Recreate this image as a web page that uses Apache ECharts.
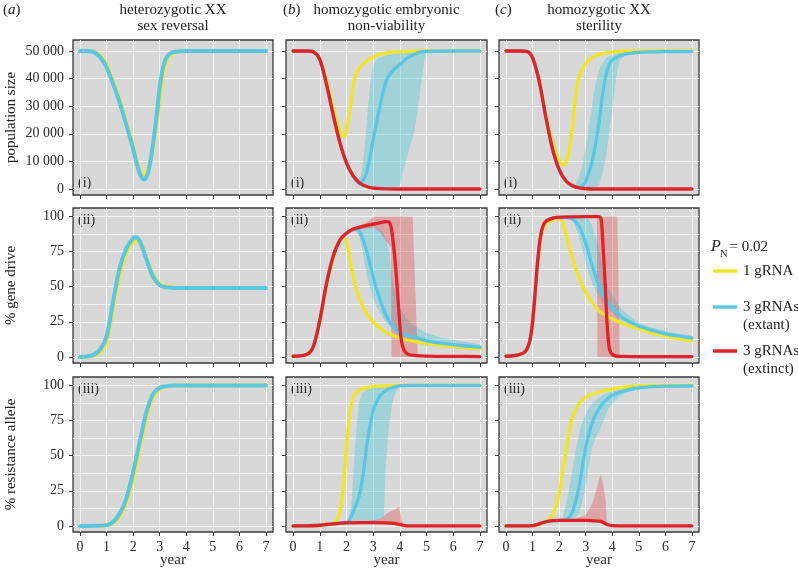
<!DOCTYPE html>
<html><head><meta charset="utf-8">
<script src="https://cdn.jsdelivr.net/npm/echarts@6/dist/echarts.min.js"></script>
<style>html,body{margin:0;padding:0;background:#fff}#c{width:798px;height:568px}</style>
</head><body><div id="c"></div><script>
// ---------- tick labels ----------
const yearTicks = [0, 1, 2, 3, 4, 5, 6, 7];
const popTicks = [0, 10000, 20000, 30000, 40000, 50000];
const pctTicks = [0, 25, 50, 75, 100];
const pctMinor = [12.5, 37.5, 62.5, 87.5];
const columnTitles = [['heterozygotic XX', 'sex reversal'], ['homozygotic embryonic', 'non-viability'], ['homozygotic XX', 'sterility']];
const columnLetters = ['a', 'b', 'c'];
const rowTitles = ['population size', '% gene drive', '% resistance allele'];
const rowTags = ['(i)', '(ii)', '(iii)'];
const legendNames = ['1 gRNA', '3 gRNAs', '(extant)', '3 gRNAs', '(extinct)'];

// ---------- (a) heterozygotic XX sex reversal ----------
const aPopYellow = [[0,50000],[0.25,50000],[0.5,49800],[0.75,48500],[1,45000],[1.25,39000],[1.5,32000],[1.75,24000],[2,15500],[2.1,11500],[2.2,8000],[2.3,5600],[2.4,4800],[2.5,5800],[2.6,8500],[2.75,15000],[2.9,25000],[3,33000],[3.15,42500],[3.3,47300],[3.5,49300],[3.75,49900],[4,50000],[5,50000],[6,50000],[7,50000]];
const aPopBlue = [[0,50000],[0.25,50000],[0.5,49700],[0.75,47800],[1,44000],[1.25,38000],[1.5,31000],[1.75,23000],[2,14500],[2.1,10500],[2.2,7000],[2.3,4500],[2.4,3500],[2.5,4300],[2.6,7500],[2.75,16500],[2.9,28000],[3,37000],[3.15,45000],[3.3,48300],[3.5,49600],[3.75,49900],[4,50000],[5,50000],[6,50000],[7,50000]];
const aDriveYellow = [[0,0],[0.25,0.2],[0.5,1],[0.75,3.5],[1,11],[1.25,35],[1.5,59],[1.75,74.5],[2,82],[2.1,83],[2.25,81.5],[2.5,71],[2.75,58],[3,52],[3.25,49.8],[3.5,49.2],[4,49],[5,49],[6,49],[7,49]];
const aDriveBlue = [[0,0],[0.25,0.3],[0.5,1.5],[0.75,5],[1,14.5],[1.25,40],[1.5,64],[1.75,77.5],[2,84.5],[2.1,85],[2.25,82.5],[2.5,69.5],[2.75,57],[3,51],[3.25,49.5],[3.5,49.1],[4,49],[5,49],[6,49],[7,49]];
const aResYellow = [[0,0],[0.5,0],[1,0.5],[1.25,2],[1.5,7],[1.75,17],[2,34],[2.25,55],[2.5,77],[2.75,92],[3,97.5],[3.25,99.3],[3.5,99.8],[4,100],[5,100],[6,100],[7,100]];
const aResBlue = [[0,0],[0.5,0.1],[1,0.6],[1.25,3],[1.5,9],[1.75,20],[2,38.5],[2.25,60],[2.5,81],[2.75,94],[3,98.3],[3.25,99.5],[3.5,99.9],[4,100],[5,100],[6,100],[7,100]];

// ---------- (b) homozygotic embryonic non-viability ----------
const bPopRed = [[0,50000],[0.5,50000],[0.75,49700],[1,47000],[1.25,38000],[1.5,27000],[1.75,17000],[2,9500],[2.25,4800],[2.5,2200],[2.75,900],[3,300],[3.5,50],[4,0],[5,0],[6,0],[7,0]];
const bPopYellow = [[0,50000],[0.5,50000],[0.75,49700],[1,47000],[1.25,39500],[1.5,29500],[1.65,24500],[1.77,20800],[1.88,18900],[1.95,19500],[2.02,22500],[2.15,30000],[2.27,38300],[2.4,42500],[2.65,45500],[2.9,47300],[3.25,48800],[3.75,49600],[4.25,49900],[4.75,50000],[6,50000],[7,50000]];
const bPopBlue = [[0,50000],[0.5,50000],[0.75,49700],[1,47000],[1.25,38000],[1.5,27000],[1.75,17000],[2,9500],[2.25,4800],[2.4,2600],[2.5,1800],[2.6,2800],[2.75,5700],[3,17700],[3.25,29800],[3.5,39500],[3.75,43100],[4,45000],[4.25,47300],[4.5,48600],[4.75,49600],[5,49900],[6,50000],[7,50000]];
const bPopBlueBand = [[2.4,1800,3000],[2.55,800,5000],[2.65,500,12000],[2.72,400,19000],[2.8,300,29000],[2.9,300,39000],[3,300,45000],[3.15,300,47300],[3.5,300,48500],[4,900,49500],[4.13,6900,49700],[4.34,14100,49800],[4.53,20200,49900],[4.65,27400,50000],[4.78,37100,50000],[4.9,45500,50000],[4.98,49100,50000],[5.1,49800,50000]];
const bDriveRed = [[0,0.5],[0.5,1.7],[0.75,7],[1,26],[1.25,52],[1.5,71.5],[1.75,83],[2,88],[2.25,91],[2.5,92.4],[2.75,93.6],[3,94.5],[3.25,95.5],[3.5,96.3],[3.6,96],[3.71,88],[3.84,64.5],[3.96,33.6],[4.05,12.5],[4.15,5],[4.3,2],[4.6,1],[5,0.6],[6,0.4],[7,0.3]];
const bDriveYellow = [[0,0.5],[0.5,1.7],[0.75,7],[1,25],[1.25,50],[1.5,70],[1.7,81],[1.85,85],[1.95,84],[2.05,78],[2.15,68],[2.25,57],[2.5,41],[2.75,31],[3,25],[3.25,20.6],[3.5,17.5],[3.75,15.2],[4,13.5],[4.5,11.2],[5,9.5],[5.5,8.3],[6,7.3],[6.5,6.4],[7,5.7]];
const bDriveBlue = [[0,0.5],[0.5,1.7],[0.75,7],[1,26],[1.25,52],[1.5,71.5],[1.75,83],[2,88],[2.25,90.5],[2.4,91],[2.5,89],[2.75,76],[2.9,64.5],[3,57],[3.25,41],[3.5,29],[3.75,21.5],[4,17],[4.25,15.5],[4.5,14.5],[5,11.5],[5.5,10],[6,8.8],[6.5,7.8],[7,7]];
const bDriveBlueBand = [[2.25,90,91.5],[2.4,89,92],[2.5,85,92.5],[2.6,76,93],[2.77,57,93],[3,41,93],[3.25,31.5,91],[3.4,27,88],[3.5,24,83],[3.6,22,76],[3.65,21.5,66],[3.75,19.5,52],[3.85,17.5,45],[4,14.8,35],[4.25,12.5,27],[4.5,10.5,22.5],[5,8,17],[5.5,7,14],[6,6,12],[6.5,5.5,10.5],[7,5,9]];
const bDriveRedBand = [[2.25,90,92],[2.5,91,93.5],[2.75,91.5,95.5],[2.95,92,98.5],[3.05,92,100],[3.25,89,100],[3.5,82,100],[3.67,78,100],[3.69,0,100],[4.48,0,100],[4.67,0,1]];
const bResYellow = [[0,0],[0.5,0],[1,0.3],[1.25,0.8],[1.5,2],[1.6,3.5],[1.7,7],[1.8,15],[1.9,32],[2,55],[2.1,76],[2.2,88],[2.3,93.5],[2.5,97],[2.75,98.5],[3,99.2],[3.5,99.7],[4,100],[5,100],[6,100],[7,100]];
const bResBlue = [[0,0],[1,0.5],[1.5,1.5],[2,2.5],[2.1,4],[2.27,11],[2.4,17],[2.52,25],[2.65,40],[2.77,58.6],[2.9,72.8],[3.02,83.5],[3.27,93],[3.53,97],[3.78,98.8],[4.03,99.8],[4.5,100],[5,100],[6,100],[7,100]];
const bResBlueBand = [[2,1.5,3],[2.1,1.5,5],[2.2,1.8,18],[2.33,2,58],[2.46,2.2,87],[2.58,2.5,94],[2.77,3,97.6],[3,3.5,99],[3.25,4,99.5],[3.4,6,99.7],[3.46,40,99.8],[3.59,70,99.9],[3.71,87,100],[3.84,95,100],[3.97,98.8,100],[4.2,99.7,100]];
const bResRed = [[0,0],[0.5,0.1],[1,0.5],[1.5,1.5],[2,2.2],[2.5,2.4],[3,2.4],[3.5,2.2],[3.8,1.8],[4,0.9],[4.2,0.3],[4.5,0.1],[5,0],[6,0],[7,0]];
const bResRedBand = [[2,1.8,2.6],[2.5,1.8,3],[3,1.6,4],[3.27,1.5,4.7],[3.52,1.3,9],[3.78,1.1,11.3],[3.97,0.8,13.7],[4.05,0.5,6.6],[4.12,0.3,0.7]];

// ---------- (c) homozygotic XX sterility ----------
const cPopRed = [[0,50000],[0.5,50000],[0.8,49800],[1,47500],[1.25,39000],[1.5,26000],[1.75,14500],[2,7000],[2.25,3000],[2.5,1200],[2.75,400],[3,100],[3.5,0],[4,0],[5,0],[6,0],[7,0]];
const cPopYellow = [[0,50000],[0.5,50000],[0.8,49800],[1,47500],[1.25,39000],[1.5,27000],[1.75,17000],[2,10500],[2.15,8700],[2.25,9500],[2.4,15300],[2.5,22600],[2.6,32000],[2.75,40700],[3,45500],[3.25,47700],[3.5,48800],[4,49600],[4.5,50000],[5,50000],[6,50000],[7,50000]];
const cPopBlue = [[0,50000],[0.5,50000],[0.8,49800],[1,47500],[1.25,39000],[1.5,26000],[1.75,14500],[2,7000],[2.25,3000],[2.5,1200],[2.75,600],[2.9,1500],[3,2700],[3.25,10500],[3.5,23800],[3.6,32200],[3.75,40700],[3.9,45500],[4,46700],[4.25,48200],[4.5,48900],[5,49500],[5.5,49700],[6,49800],[7,49800]];
const cPopBlueBand = [[2.6,500,1000],[2.87,300,8100],[3.12,300,22600],[3.31,300,34700],[3.37,300,38000],[3.5,1500,43100],[3.63,5700,45500],[3.75,11000,47300],[3.81,15300,47800],[4,28600,48500],[4.13,39500,49000],[4.25,46100,49300],[4.5,48500,49700],[5,49500,49900]];
const cDriveRed = [[0,0.5],[0.5,1.7],[0.75,4.5],[0.9,12],[1,25],[1.1,47],[1.2,70],[1.3,86],[1.4,93.5],[1.5,96.5],[1.75,98.8],[2,99.5],[2.5,99.7],[3,99.8],[3.5,99.8],[3.58,98],[3.63,86],[3.73,53],[3.81,22],[3.9,5.2],[4.07,0.9],[4.3,0.4],[5,0.3],[7,0.3]];
const cDriveYellow = [[0,0.5],[0.5,1.7],[0.75,4.5],[0.9,11.5],[1,24],[1.1,45],[1.2,67],[1.3,83],[1.4,91],[1.5,94.5],[1.75,97.5],[2,98.3],[2.1,97],[2.25,88],[2.5,70],[2.75,56],[3,46],[3.25,38.5],[3.5,33],[3.75,29.5],[4,27],[4.5,23],[5,20],[5.5,17],[6,15],[6.5,13],[7,11.5]];
const cDriveBlue = [[0,0.5],[0.5,1.7],[0.75,4.5],[0.9,12],[1,25],[1.1,47],[1.2,70],[1.3,86],[1.4,93.5],[1.5,96.5],[1.75,98.8],[2,99.2],[2.25,99.3],[2.5,98],[2.75,93],[3,81],[3.25,64.5],[3.5,51],[3.75,41.5],[4,35],[4.38,28],[5,22],[5.5,19],[6,16.5],[6.5,15],[7,13.5]];
const cDriveBlueBand = [[2.3,99,99.5],[2.5,97.6,99.8],[2.75,85.8,99.8],[3,66.8,99.5],[3.12,59,97.6],[3.25,52.6,93],[3.38,47,85.8],[3.5,43,76],[3.63,38.5,64.5],[3.88,33.6,47.9],[4.25,27,36],[4.38,25.4,33.5],[5,20.6,24.2],[5.5,17.5,21],[6,15,18.4],[6.5,13.5,16.5],[7,12,15]];
const cDriveRedBand = [[2.5,99.5,100],[2.9,99.3,100],[3.2,99.3,100],[3.42,99.2,100],[3.44,0,100],[4.19,0,100],[4.28,0,0.8]];
const cResRed = [[0,0],[0.5,0.1],[1,0.3],[1.25,1.5],[1.5,3],[1.75,3.8],[2,4],[2.5,4],[3,4],[3.5,3.5],[3.6,3.1],[3.75,1.6],[3.9,0.5],[4,0.2],[4.5,0],[7,0]];
const cResYellow = [[0,0],[1,0.3],[1.5,3],[1.75,7.8],[2,23],[2.18,44.4],[2.37,65.7],[2.5,77.5],[2.75,87],[3,91.7],[3.5,95.3],[4,97.6],[4.75,99.3],[5,99.6],[5.5,100],[6,100],[7,100]];
const cResBlue = [[0,0],[1,0.3],[1.5,3],[2,4],[2.25,4.5],[2.5,10],[2.75,28],[2.87,42],[3,56],[3.25,74],[3.5,83.5],[3.75,89.4],[4,93],[4.5,96.5],[5,98.3],[6,99.5],[7,99.6]];
const cResBlueBand = [[2.12,3.5,4.5],[2.37,4,25.5],[2.5,4.3,40],[2.62,6,54],[2.75,9,65],[2.81,12,70.4],[2.94,23,77],[3.06,35,82],[3.12,44.4,84],[3.25,56,87.5],[3.37,63,89.4],[3.5,67,91.5],[3.63,73,93],[3.88,84.6,95],[4.25,91.7,97],[4.5,94.5,97.8],[5,97.5,98.8],[5.5,98.8,99.5],[6,99.3,99.7]];
const cResRedBand = [[1.75,3.5,4.2],[2.5,3.5,4.5],[3,3.5,7.8],[3.25,3.4,16],[3.4,3.3,25.5],[3.5,3.2,33],[3.56,3.1,36.6],[3.65,2.8,30],[3.75,1.6,18.4],[3.8,1.2,2.5],[3.9,0.5,0.7]];

// ---------- styling / layout ----------
const SERIF = '"Liberation Serif","Times New Roman",serif';
const YELLOW = '#f0e52b', BLUE = '#5cc6e2', RED = '#e12329';
const BLUE_FILL = 'rgba(70,200,215,0.38)', RED_FILL = 'rgba(228,45,45,0.30)';
const cols = [{left:73, width:200}, {left:286, width:201}, {left:499, width:200}];
const rows = [{top:40, height:155}, {top:208, height:155}, {top:377, height:155}];

const panels = [
  {r:0,c:0, yellow:aPopYellow, blue:aPopBlue},
  {r:0,c:1, yellow:bPopYellow, blue:bPopBlue, blueBand:bPopBlueBand, red:bPopRed},
  {r:0,c:2, yellow:cPopYellow, blue:cPopBlue, blueBand:cPopBlueBand, red:cPopRed},
  {r:1,c:0, yellow:aDriveYellow, blue:aDriveBlue},
  {r:1,c:1, yellow:bDriveYellow, blue:bDriveBlue, blueBand:bDriveBlueBand, red:bDriveRed, redBand:bDriveRedBand},
  {r:1,c:2, yellow:cDriveYellow, blue:cDriveBlue, blueBand:cDriveBlueBand, red:cDriveRed, redBand:cDriveRedBand},
  {r:2,c:0, yellow:aResYellow, blue:aResBlue},
  {r:2,c:1, yellow:bResYellow, blue:bResBlue, blueBand:bResBlueBand, red:bResRed, redBand:bResRedBand},
  {r:2,c:2, yellow:cResYellow, blue:cResBlue, blueBand:cResBlueBand, red:cResRed, redBand:cResRedBand}
];

const textStyle = (size) => ({fontFamily: SERIF, fontSize: size, color: '#2a2a2a'});
const grids = [], xAxes = [], yAxes = [], minorAxes = [], series = [];

function bandSeries(band, fill, gi) {
  return {
    type: 'custom', coordinateSystem: 'cartesian2d', xAxisIndex: gi, yAxisIndex: gi,
    silent: true, clip: true,
    data: band.map(d => [d[0], d[1], d[2]]),
    encode: {x: 0, y: [1, 2]},
    renderItem: function (params, api) {
      if (params.dataIndex !== 0) return null;
      const upper = band.map(d => api.coord([d[0], d[2]]));
      const lower = band.map(d => api.coord([d[0], d[1]])).reverse();
      return {type: 'polygon', shape: {points: upper.concat(lower)}, style: {fill: fill, stroke: null}};
    }
  };
}
function lineSeries(data, color, gi, width) {
  return {
    type: 'line', xAxisIndex: gi, yAxisIndex: gi, data: data, showSymbol: false, symbol: 'none',
    smooth: 0.3, silent: true, emphasis: {disabled: true},
    lineStyle: {color: color, width: width, cap: 'round', join: 'round'}, itemStyle: {color: color}
  };
}

panels.forEach((p, gi) => {
  const col = cols[p.c], row = rows[p.r];
  grids.push({left: col.left, top: row.top, width: col.width, height: row.height, show: true,
    backgroundColor: '#d8d8d8', borderColor: '#3a3a3a', borderWidth: 1.3, containLabel: false, outerBoundsMode: 'none'});
  xAxes.push({
    type: 'value', gridIndex: gi, min: -0.265, max: 7.265,
    axisLine: {show: false, onZero: false},
    axisTick: {show: true, length: 4, customValues: yearTicks, lineStyle: {color: '#3a3a3a', width: 1}},
    axisLabel: Object.assign({show: p.r === 2, customValues: yearTicks, margin: 8, showMinLabel: true, showMaxLabel: true}, textStyle(14)),
    splitLine: {show: true, lineStyle: {color: '#f3f3f3', width: 1}},
    name: p.r === 2 ? 'year' : '', nameLocation: 'middle', nameGap: 21, nameMoveOverlap: false,
    nameTextStyle: textStyle(15)
  });
  const isPop = p.r === 0;
  yAxes.push({
    type: 'value', gridIndex: gi, min: isPop ? -2170 : -4.3, max: isPop ? 53990 : 106,
    axisLine: {show: false, onZero: false},
    axisTick: {show: true, length: 4, customValues: isPop ? popTicks : pctTicks, lineStyle: {color: '#3a3a3a', width: 1}},
    axisLabel: Object.assign({show: p.c === 0, customValues: isPop ? popTicks : pctTicks, margin: 9,
      formatter: v => (isPop && v > 0) ? (v / 1000) + ' 000' : String(v)}, textStyle(14)),
    splitLine: {show: true, lineStyle: {color: '#f3f3f3', width: 1}}
  });
  if (!isPop) {
    minorAxes.push({
      type: 'value', gridIndex: gi, min: -4.3, max: 106, position: 'left',
      axisLine: {show: false, onZero: false},
      axisTick: {show: false, customValues: pctMinor},
      axisLabel: {show: false, customValues: pctMinor},
      splitLine: {show: true, lineStyle: {color: '#f3f3f3', width: 1}}
    });
  }
  const w = p.c === 0 ? 4 : 3.3;
  series.push(lineSeries(p.yellow, YELLOW, gi, w));
  if (p.blueBand) series.push(bandSeries(p.blueBand, BLUE_FILL, gi));
  series.push(lineSeries(p.blue, BLUE, gi, w));
  if (p.redBand) series.push(bandSeries(p.redBand, RED_FILL, gi));
  if (p.red) series.push(lineSeries(p.red, RED, gi, w));
});

// ---------- text decorations ----------
const graphic = [];
const txt = (x, y, text, size, extra) => Object.assign({type: 'text', x: x, y: y, silent: true,
  style: Object.assign({text: text, fontFamily: SERIF, fontSize: size, fill: '#222', align: 'left', verticalAlign: 'middle'}, extra || {})});
const letterX = [3, 283, 495];
cols.forEach((col, i) => {
  const cx = col.left + col.width / 2;
  graphic.push(txt(cx, 10, columnTitles[i][0], 15, {align: 'center'}));
  graphic.push(txt(cx, 26, columnTitles[i][1], 15, {align: 'center'}));
  graphic.push(txt(letterX[i], 10, '({i|' + columnLetters[i] + '})', 15,
    {rich: {i: {fontFamily: SERIF, fontSize: 15, fontStyle: 'italic', fill: '#222'}}}));
});
rows.forEach((row, j) => {
  const t = txt(11, row.top + row.height / 2, rowTitles[j], 15, {align: 'center'});
  t.rotation = Math.PI / 2;
  graphic.push(t);
  cols.forEach(col => {
    const y = j === 0 ? row.top + row.height - 12 : row.top + 12;
    graphic.push(txt(col.left + 5, y, rowTags[j], 14, {fill: '#2a2a2a'}));
  });
});
// legend
graphic.push(txt(711, 247, 'P', 16, {fontStyle: 'italic'}));
graphic.push(txt(720, 254, 'N', 10.5));
graphic.push(txt(729.5, 247, '= 0.02', 15));
const legendRows = [{y: 271, color: YELLOW}, {y: 307, color: BLUE}, {y: 351, color: RED}];
legendRows.forEach(lr => graphic.push({type: 'line', silent: true, shape: {x1: 713, y1: lr.y, x2: 737, y2: lr.y},
  style: {stroke: lr.color, lineWidth: 3.5}}));
graphic.push(txt(743, 271, legendNames[0], 15));
graphic.push(txt(743, 307, legendNames[1], 15));
graphic.push(txt(743, 325, legendNames[2], 15));
graphic.push(txt(743, 351, legendNames[3], 15));
graphic.push(txt(743, 369, legendNames[4], 15));

const chart = echarts.init(document.getElementById('c'), null, {renderer: 'canvas'});
chart.setOption({
  animation: false,
  backgroundColor: '#ffffff',
  grid: grids,
  xAxis: xAxes,
  yAxis: yAxes.concat(minorAxes),
  series: series,
  graphic: graphic
});
</script></body></html>
